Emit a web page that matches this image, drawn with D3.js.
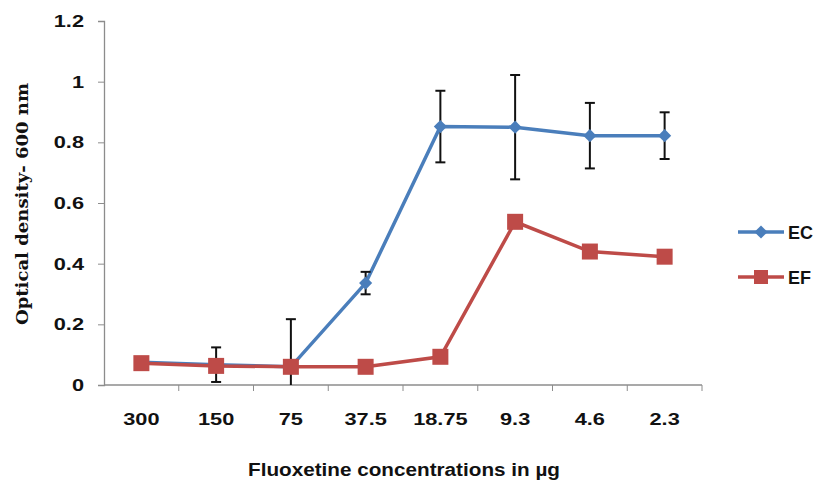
<!DOCTYPE html>
<html>
<head>
<meta charset="utf-8">
<script src="https://cdn.jsdelivr.net/npm/d3@7"></script>
<style>
  body { margin: 0; background: #fff; }
  svg { display: block; }
</style>
</head>
<body>
<div id="chart"></div>
<script>
// chart values
const categories = ['300', '150', '75', '37.5', '18.75', '9.3', '4.6', '2.3'];
const ecValues = [0.075, 0.067, 0.06, 0.336, 0.852, 0.85, 0.822, 0.822];
const ecErrors = [0, 0.057, 0.157, 0.037, 0.118, 0.172, 0.108, 0.077];
const efValues = [0.072, 0.063, 0.06, 0.06, 0.093, 0.538, 0.44, 0.423];
const yTicks = [0, 0.2, 0.4, 0.6, 0.8, 1, 1.2];

const width = 819, height = 483;
const margin = { top: 21, right: 117, bottom: 98, left: 104 };

const svg = d3.select('#chart').append('svg')
  .attr('width', width)
  .attr('height', height);

const x = d3.scaleBand()
  .domain(categories)
  .range([margin.left, width - margin.right])
  .padding(0);

const y = d3.scaleLinear()
  .domain([0, 1.2])
  .range([height - margin.bottom, margin.top]);

const axisColor = '#8c8c8c';
const tickFont = '"Liberation Sans", Arial, sans-serif';
const sx = 1.28; // the source text is stretched wide

// y axis
const yAxis = svg.append('g')
  .attr('transform', `translate(${margin.left},0)`)
  .call(d3.axisLeft(y).tickValues(yTicks).tickSize(6).tickPadding(14)
    .tickFormat(d => d3.format('~g')(d)));
yAxis.select('.domain').attr('stroke', axisColor).attr('stroke-width', 1.3);
yAxis.selectAll('.tick line').attr('stroke', axisColor);
yAxis.selectAll('.tick text')
  .attr('x', -20 / sx)
  .attr('transform', `scale(${sx},1)`)
  .attr('fill', '#111')
  .style('font-family', tickFont)
  .style('font-weight', 'bold')
  .style('font-size', '17px');

// x axis: ticks on band edges
const xAxis = svg.append('g')
  .attr('transform', `translate(0,${y(0)})`);
xAxis.append('line')
  .attr('x1', margin.left).attr('x2', width - margin.right)
  .attr('stroke', axisColor).attr('stroke-width', 1.3);
const edges = categories.map(c => x(c)).concat([x(categories[categories.length - 1]) + x.bandwidth()]);
xAxis.selectAll('.edge')
  .data(edges.slice(1))
  .enter().append('line')
  .attr('x1', d => d).attr('x2', d => d)
  .attr('y1', 0).attr('y2', 6)
  .attr('stroke', axisColor);
xAxis.selectAll('.lab')
  .data(categories)
  .enter().append('text')
  .attr('x', d => (x(d) + x.bandwidth() / 2) / sx)
  .attr('y', 40)
  .attr('transform', `scale(${sx},1)`)
  .attr('text-anchor', 'middle')
  .attr('fill', '#111')
  .style('font-family', tickFont)
  .style('font-weight', 'bold')
  .style('font-size', '17px')
  .text(d => d);

// axis titles
svg.append('text')
  .attr('transform', `translate(28,204) rotate(-90)`)
  .attr('text-anchor', 'middle')
  .attr('textLength', 242)
  .attr('lengthAdjust', 'spacingAndGlyphs')
  .attr('fill', '#111')
  .style('font-family', '"DejaVu Serif", serif')
  .style('font-weight', 'bold')
  .style('font-size', '17px')
  .text('Optical density- 600 nm');

svg.append('text')
  .attr('x', 404)
  .attr('y', 476)
  .attr('text-anchor', 'middle')
  .attr('textLength', 312)
  .attr('lengthAdjust', 'spacingAndGlyphs')
  .attr('fill', '#111')
  .style('font-family', tickFont)
  .style('font-weight', 'bold')
  .style('font-size', '18px')
  .text('Fluoxetine concentrations in µg');

const cx = d => x(d) + x.bandwidth() / 2;
const line = d3.line()
  .x(d => cx(d.cat))
  .y(d => y(d.v));

const ecData = categories.map((c, i) => ({ cat: c, v: ecValues[i], e: ecErrors[i] }));
const efData = categories.map((c, i) => ({ cat: c, v: efValues[i] }));

const blue = '#4a7ebb', red = '#be4b48';

// EC line
svg.append('path')
  .datum(ecData)
  .attr('d', line)
  .attr('fill', 'none')
  .attr('stroke', blue)
  .attr('stroke-width', 3.5);

// EC error bars
const err = svg.append('g').selectAll('g')
  .data(ecData.filter(d => d.e > 0))
  .enter().append('g');
err.append('line')
  .attr('x1', d => cx(d.cat)).attr('x2', d => cx(d.cat))
  .attr('y1', d => y(d.v + d.e)).attr('y2', d => y(Math.max(0, d.v - d.e)))
  .attr('stroke', '#111').attr('stroke-width', 2);
err.append('line')
  .attr('x1', d => cx(d.cat) - 5).attr('x2', d => cx(d.cat) + 5)
  .attr('y1', d => y(d.v + d.e)).attr('y2', d => y(d.v + d.e))
  .attr('stroke', '#111').attr('stroke-width', 2);
err.filter(d => d.v - d.e > 0).append('line')
  .attr('x1', d => cx(d.cat) - 5).attr('x2', d => cx(d.cat) + 5)
  .attr('y1', d => y(d.v - d.e)).attr('y2', d => y(d.v - d.e))
  .attr('stroke', '#111').attr('stroke-width', 2);

// EC diamonds
const diamond = d3.symbol().type(d3.symbolDiamond2).size(110);
svg.append('g').selectAll('path')
  .data(ecData)
  .enter().append('path')
  .attr('d', diamond)
  .attr('transform', d => `translate(${cx(d.cat)},${y(d.v)})`)
  .attr('fill', blue);

// EF line + squares
svg.append('path')
  .datum(efData)
  .attr('d', line)
  .attr('fill', 'none')
  .attr('stroke', red)
  .attr('stroke-width', 3.5);

const sq = 16;
svg.append('g').selectAll('rect')
  .data(efData)
  .enter().append('rect')
  .attr('x', d => cx(d.cat) - sq / 2)
  .attr('y', d => y(d.v) - sq / 2)
  .attr('width', sq).attr('height', sq)
  .attr('fill', red);

// legend
const legend = svg.append('g');
const legendItems = [
  { name: 'EC', color: blue, shape: 'diamond', y: 232 },
  { name: 'EF', color: red, shape: 'square', y: 277 }
];
legendItems.forEach(it => {
  legend.append('line')
    .attr('x1', 738).attr('x2', 784)
    .attr('y1', it.y).attr('y2', it.y)
    .attr('stroke', it.color).attr('stroke-width', 3.5);
  if (it.shape === 'diamond') {
    legend.append('path')
      .attr('d', diamond)
      .attr('transform', `translate(761,${it.y})`)
      .attr('fill', it.color);
  } else {
    legend.append('rect')
      .attr('x', 761 - sq / 2 + 1).attr('y', it.y - sq / 2 + 1)
      .attr('width', sq - 2).attr('height', sq - 2)
      .attr('fill', it.color);
  }
  legend.append('text')
    .attr('x', 788)
    .attr('y', it.y + 7)
    .attr('fill', '#111')
    .style('font-family', tickFont)
    .style('font-weight', 'bold')
    .style('font-size', '18px')
    .text(it.name);
});
</script>
</body>
</html>
